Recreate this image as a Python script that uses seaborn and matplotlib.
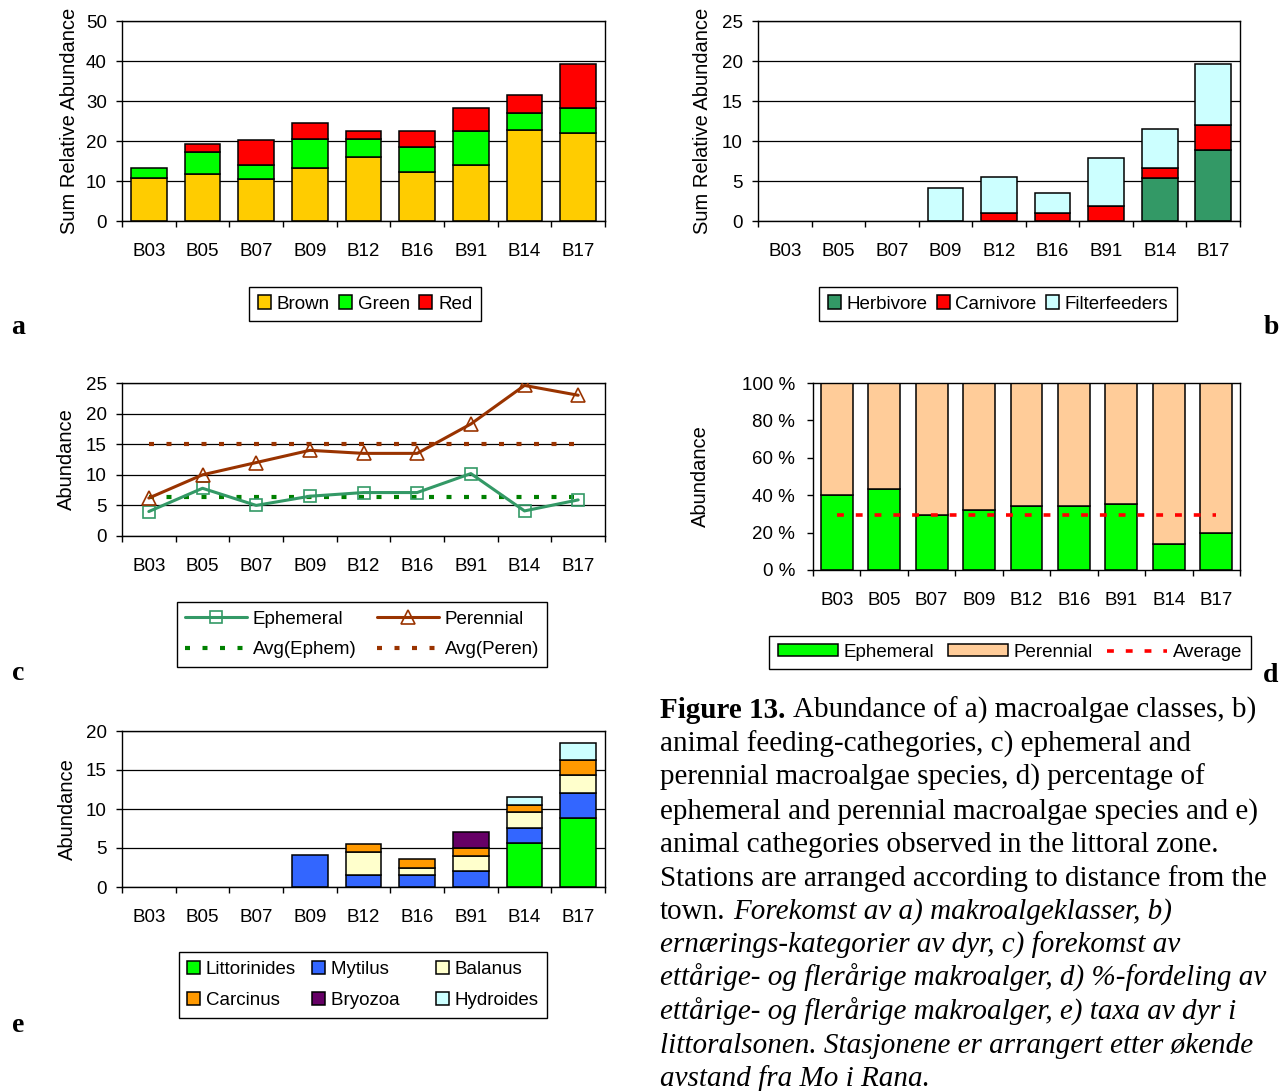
import numpy as np
import matplotlib
matplotlib.use("Agg")
import matplotlib.pyplot as plt
from matplotlib.patches import Patch
from matplotlib.ticker import FixedLocator, FuncFormatter
import seaborn as sns

# Stations, ordered by distance from the town
stations = ["B03", "B05", "B07", "B09", "B12", "B16", "B91", "B14", "B17"]

# a) macroalgae classes
brown = [10.7, 11.7, 10.4, 13.2, 15.9, 12.3, 14.0, 22.8, 22.0]
green = [2.5, 5.6, 3.5, 7.2, 4.5, 6.3, 8.5, 4.3, 6.3]
red = [0.0, 2.0, 6.3, 4.1, 2.1, 3.9, 5.8, 4.3, 11.0]

# b) animal feeding categories
herbivore = [0, 0, 0, 0, 0, 0, 0, 5.4, 8.9]
carnivore = [0, 0, 0, 0, 1.0, 1.0, 1.9, 1.2, 3.1]
filterfeeders = [0, 0, 0, 4.1, 4.5, 2.5, 6.0, 4.9, 7.6]

# c) ephemeral / perennial abundance
ephemeral = [4.0, 7.8, 5.0, 6.5, 7.1, 7.1, 10.2, 4.1, 5.9]
perennial = [6.2, 10.0, 12.0, 14.0, 13.5, 13.5, 18.3, 24.6, 23.0]
avg_ephem = 6.3
avg_peren = 15.0

# d) percentage split
ephem_pct = [40.0, 43.4, 29.4, 31.9, 34.3, 34.3, 35.2, 13.9, 19.6]
peren_pct = [60.0, 56.6, 70.6, 68.1, 65.7, 65.7, 64.8, 86.1, 80.4]
avg_pct = 29.5

# e) animal taxa
littorinides = [0, 0, 0, 0, 0, 0, 0, 5.6, 8.9]
mytilus = [0, 0, 0, 4.1, 1.6, 1.6, 2.0, 2.0, 3.1]
balanus = [0, 0, 0, 0, 2.9, 0.9, 2.0, 2.0, 2.4]
carcinus = [0, 0, 0, 0, 1.0, 1.1, 1.0, 0.9, 1.9]
bryozoa = [0, 0, 0, 0, 0, 0, 2.0, 0, 0]
hydroides = [0, 0, 0, 0, 0, 0, 0, 1.1, 2.1]

caption_lines = [
    [("Figure 13.", "bold"), ("Abundance of a) macroalgae classes, b)", "normal")],
    [("animal feeding-cathegories, c) ephemeral and", "normal")],
    [("perennial macroalgae species, d) percentage of", "normal")],
    [("ephemeral and perennial macroalgae species and e)", "normal")],
    [("animal cathegories observed in the littoral zone.", "normal")],
    [("Stations are arranged according to distance from the", "normal")],
    [("town.", "normal"), ("Forekomst av a) makroalgeklasser, b)", "italic")],
    [("ernærings-kategorier av dyr, c) forekomst av", "italic")],
    [("ettårige- og flerårige makroalger, d) %-fordeling av", "italic")],
    [("ettårige- og flerårige makroalger, e) taxa av dyr i", "italic")],
    [("littoralsonen. Stasjonene er arrangert etter økende", "italic")],
    [("avstand fra Mo i Rana.", "italic")],
]

sns.set_theme(style="white")
plt.rcParams["font.family"] = ["Liberation Sans", "DejaVu Sans"]
for k in ["text.color", "axes.labelcolor", "xtick.color", "ytick.color"]:
    plt.rcParams[k] = "black"

FS = 13.5
W, H = 1280, 1091
fig = plt.figure(figsize=(W / 100, H / 100), dpi=100)


def px_axes(x0, y0, x1, y1):
    return fig.add_axes([x0 / W, 1 - y1 / H, (x1 - x0) / W, (y1 - y0) / H])


def stacked_bars(ax, layers, names, colors):
    bottom = np.zeros(len(stations))
    handles = {}
    for vals, name, col in zip(layers, names, colors):
        sns.barplot(x=stations, y=vals, bottom=bottom, color=col,
                    edgecolor="black", linewidth=1.1, width=0.67, errorbar=None,
                    saturation=1, ax=ax)
        bottom = bottom + np.asarray(vals, dtype=float)
        handles[name] = Patch(facecolor=col, edgecolor="black", linewidth=1.1)
    # empty segments are not drawn
    for p in ax.patches:
        if p.get_height() == 0:
            p.set_visible(False)
    return handles


def style_axes(ax, ymax, step, ylabel, label_x, ypad=7, fmt=None):
    ax.set_xlim(-0.5, len(stations) - 0.5)
    ax.set_ylim(0, ymax)
    ax.set_yticks(np.arange(0, ymax + step / 2, step))
    if fmt is not None:
        ax.yaxis.set_major_formatter(FuncFormatter(fmt))
    ax.xaxis.set_minor_locator(FixedLocator(np.arange(-0.5, len(stations), 1)))
    ax.tick_params(axis="x", which="major", length=0, pad=15.5, labelsize=FS)
    ax.tick_params(axis="x", which="minor", length=4, width=1, direction="out", color="black", bottom=True)
    ax.tick_params(axis="y", length=4, width=1, pad=ypad, labelsize=FS, direction="out", left=True)
    ax.grid(axis="y", color="black", lw=0.9)
    ax.set_axisbelow(True)
    for s in ax.spines.values():
        s.set_color("black")
        s.set_linewidth(1)
    ax.set_xlabel("")
    ax.set_ylabel(ylabel, fontsize=14.5)
    ax.yaxis.set_label_coords(label_x, 0.5)


def boxed_legend(ax, handles, labels, cx, cy, ncol, **kw):
    opts = dict(handlelength=0.7, handleheight=0.7, handletextpad=0.3,
                columnspacing=0.5, borderpad=0.45)
    opts.update(kw)
    leg = ax.legend(handles, labels, loc="center", bbox_to_anchor=(cx / W, 1 - cy / H),
                    bbox_transform=fig.transFigure, ncol=ncol, frameon=True, fancybox=False,
                    edgecolor="black", framealpha=1, fontsize=FS, borderaxespad=0, **opts)
    leg.get_frame().set_linewidth(1.0)
    return leg


# a) macroalgae classes
ax_a = px_axes(122, 21, 605, 221)
hd = stacked_bars(ax_a, [brown, green, red], ["Brown", "Green", "Red"],
                  ["#FFCC00", "#00FF00", "#FF0000"])
style_axes(ax_a, 50, 10, "Sum Relative Abundance", -0.09)
boxed_legend(ax_a, list(hd.values()), list(hd.keys()), 365, 304, 3)

# b) feeding categories
ax_b = px_axes(758, 21, 1240, 221)
hd = stacked_bars(ax_b, [herbivore, carnivore, filterfeeders],
                  ["Herbivore", "Carnivore", "Filterfeeders"],
                  ["#339966", "#FF0000", "#CCFFFF"])
style_axes(ax_b, 25, 5, "Sum Relative Abundance", -0.095)
boxed_legend(ax_b, list(hd.values()), list(hd.keys()), 998, 304, 3)

# c) ephemeral and perennial lines
ax_c = px_axes(122, 383, 605, 536)
sns.lineplot(x=stations, y=ephemeral, color="#339966", lw=2.2, marker="s", markersize=9,
             markerfacecolor="none", markeredgecolor="#339966", markeredgewidth=1.2,
             label="Ephemeral", sort=False, ax=ax_c, zorder=3)
sns.lineplot(x=stations, y=perennial, color="#993300", lw=2.2, marker="^", markersize=10,
             markerfacecolor="none", markeredgecolor="#993300", markeredgewidth=1.2,
             label="Perennial", sort=False, ax=ax_c, zorder=3)
sns.lineplot(x=[stations[0], stations[-1]], y=[avg_ephem, avg_ephem], color="#008000",
             lw=3, linestyle=(0, (1.2, 3.0)), label="Avg(Ephem)", ax=ax_c, zorder=2)
sns.lineplot(x=[stations[0], stations[-1]], y=[avg_peren, avg_peren], color="#993300",
             lw=3, linestyle=(0, (1.2, 3.0)), label="Avg(Peren)", ax=ax_c, zorder=2)
style_axes(ax_c, 25, 5, "Abundance", -0.095)
h, l = ax_c.get_legend_handles_labels()
hd = dict(zip(l, h))
order = ["Ephemeral", "Avg(Ephem)", "Perennial", "Avg(Peren)"]
boxed_legend(ax_c, [hd[k] for k in order], order, 362, 634.5, 2,
             handlelength=3.3, handleheight=0.7, columnspacing=1.1, labelspacing=0.7)

# d) percentage of ephemeral / perennial
ax_d = px_axes(813, 383, 1240, 570)
hd = stacked_bars(ax_d, [ephem_pct, peren_pct], ["Ephemeral", "Perennial"],
                  ["#00FF00", "#FFCC99"])
sns.lineplot(x=[stations[0], stations[-1]], y=[avg_pct, avg_pct], color="#FF0000",
             lw=2.6, linestyle=(0, (1.9, 3.3)), label="Average", ax=ax_d, zorder=4)
style_axes(ax_d, 100, 20, "Abundance", -0.242, ypad=9, fmt=lambda v, p: f"{int(v)} %")
ax_d.grid(False)
h, l = ax_d.get_legend_handles_labels()
hd.update(dict(zip(l, h)))
order = ["Ephemeral", "Perennial", "Average"]
boxed_legend(ax_d, [hd[k] for k in order], order, 1010, 652.5, 3, handlelength=3.2,
             handleheight=0.6, columnspacing=0.75)

# e) animal taxa
ax_e = px_axes(122, 731, 605, 887)
e_names = ["Littorinides", "Mytilus", "Balanus", "Carcinus", "Bryozoa", "Hydroides"]
hd = stacked_bars(ax_e, [littorinides, mytilus, balanus, carcinus, bryozoa, hydroides], e_names,
                  ["#00FF00", "#3366FF", "#FFFFCC", "#FF9900", "#660066", "#CCFFFF"])
style_axes(ax_e, 20, 5, "Abundance", -0.093)
order = ["Littorinides", "Carcinus", "Mytilus", "Bryozoa", "Balanus", "Hydroides"]
# Excel uses equal column widths: pad the middle column with no-break spaces
shown = [k + "\u00a0" * 4 if k in ("Mytilus", "Bryozoa") else k for k in order]
boxed_legend(ax_e, [hd[k] for k in order], shown, 363, 985, 3,
             labelspacing=0.75, columnspacing=0.85)

# panel letters
for letter, (x, y) in {"a": (18, 327), "b": (1271, 327), "c": (18, 674),
                       "d": (1271, 676), "e": (18, 1026)}.items():
    fig.text(x / W, 1 - y / H, letter, fontsize=20, fontweight="bold",
             family=["Liberation Serif"], ha="center", va="center")

# caption
renderer = fig.canvas.get_renderer()
cap_fs = 21
space_px = 0.25 * cap_fs * 100 / 72
for i, segs in enumerate(caption_lines):
    x = 660
    y = 1 - (718 + i * 33.5) / H
    for txt, style in segs:
        t = fig.text(x / W, y, txt, fontsize=cap_fs, family=["Liberation Serif"],
                     fontweight="bold" if style == "bold" else "normal",
                     fontstyle="italic" if style == "italic" else "normal",
                     ha="left", va="baseline")
        bb = t.get_window_extent(renderer=renderer)
        x = bb.x1 + space_px

fig.savefig("out.png", dpi=100)
